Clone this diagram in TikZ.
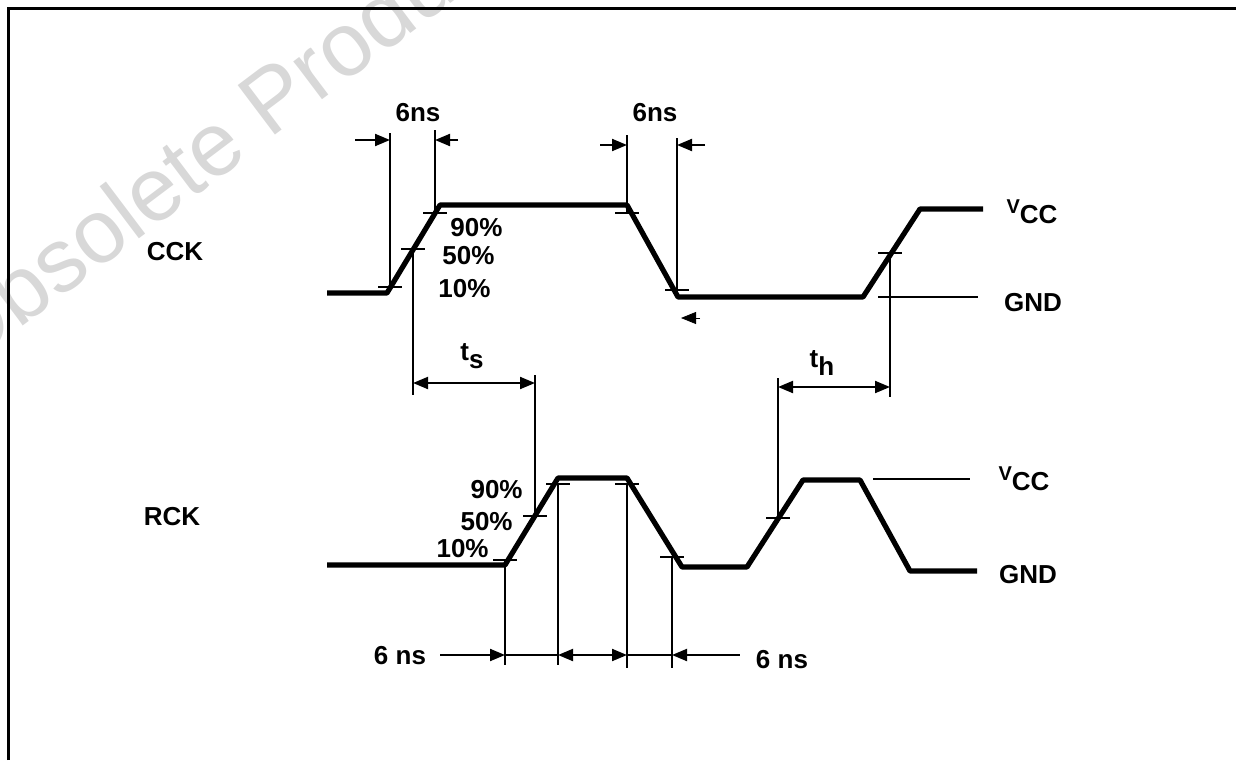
\documentclass[tikz,border=0pt]{standalone}
\usepackage{fontspec}
\setmainfont{Liberation Sans}
\usetikzlibrary{arrows.meta}
\definecolor{wmgray}{RGB}{216,216,216}

\begin{document}
\begin{tikzpicture}[x=0.5pt, y=-0.5pt,
        >={Triangle[length=7.5pt, width=6pt]},
        wave/.style = {line width=2.6pt, line join=round},
        dim/.style = {line width=1pt},
        tick/.style = {line width=0.9pt},
        lbl/.style = {font=\bfseries\fontsize{13}{13}\selectfont, inner sep=0pt},
        pct/.style = {font=\bfseries\fontsize{13}{13}\selectfont, inner sep=0pt},
        ]
        \useasboundingbox (0,0) rectangle (1236,760);
        \clip (0,0) rectangle (1236,760);

        % Watermark
        \node[wmgray, rotate=37, anchor=base west, inner sep=0pt, font=\fontsize{45}{45}\selectfont] (wm) at (-38,372) {Obsolete Product(s)};

        % Frame
        \draw[line width=1.5pt] (8,760) -- (8,8) -- (1236,8);

        % Signal names
        \node[lbl] (cck) at (175,252) {CCK};
        \node[lbl] (rck) at (172,517) {RCK};

        % CCK waveform
        \coordinate (c0) at (327,293);
        \coordinate (c1) at (387,293);
        \coordinate (c2) at (440,205);
        \coordinate (c3) at (627,205);
        \coordinate (c4) at (678,297);
        \coordinate (c5) at (863,297);
        \coordinate (c6) at (920,209);
        \coordinate (c7) at (983,209);
        \draw[wave] (c0) -- (c1) -- (c2) -- (c3) -- (c4) -- (c5) -- (c6) -- (c7);

        % RCK waveform
        \coordinate (r0) at (327,565);
        \coordinate (r1) at (505,565);
        \coordinate (r2) at (558,478);
        \coordinate (r3) at (627,478);
        \coordinate (r4) at (682,567);
        \coordinate (r5) at (747,567);
        \coordinate (r6) at (803,480);
        \coordinate (r7) at (860,480);
        \coordinate (r8) at (910,571);
        \coordinate (r9) at (977,571);
        \draw[wave] (r0) -- (r1) -- (r2) -- (r3) -- (r4) -- (r5) -- (r6) -- (r7) -- (r8) -- (r9);

        % Percent points on the edges
        \coordinate (c10) at (390,287);
        \coordinate (c50) at (413,249);
        \coordinate (c90) at (435,213);
        \coordinate (d90) at (627,213);
        \coordinate (d10) at (677,290);
        \coordinate (e50) at (890,253);
        \coordinate (s10) at (505,560);
        \coordinate (s50) at (535,516);
        \coordinate (s90) at (558,484);
        \coordinate (t90) at (627,484);
        \coordinate (t10) at (672,557);
        \coordinate (u50) at (778,518);
        \foreach \p in {c10,c50,c90,d90,d10,e50,s10,s50,s90,t90,t10,u50}
            \draw[tick] ([xshift=-6pt]\p) -- ([xshift=6pt]\p);

        % Percent labels
        \node[pct, anchor=west] (cp90) at (450,228) {90\%};
        \node[pct, anchor=west] (cp50) at (442,256) {50\%};
        \node[pct, anchor=west] (cp10) at (438,289) {10\%};
        \node[pct, anchor=east] (rp90) at (523,490) {90\%};
        \node[pct, anchor=east] (rp50) at (513,522) {50\%};
        \node[pct, anchor=east] (rp10) at (489,549) {10\%};

        % Rise time on CCK
        \draw[dim] (c10) -- (390,133);
        \draw[dim] (c90) -- (435,130);
        \draw[dim, ->] (355,140) -- (390,140);
        \draw[dim, ->] (458,140) -- (435,140);
        \node[lbl] (trise) at (418,113) {6ns};

        % Fall time on CCK
        \draw[dim] (d90) -- (627,135);
        \draw[dim] (d10) -- (677,138);
        \draw[dim, ->] (600,145) -- (627,145);
        \draw[dim, ->] (705,145) -- (677,145);
        \node[lbl] (tfall) at (655,113) {6ns};
        \draw[->] (700,318) -- (681,318);

        % Setup time
        \draw[dim] (c50) -- (413,395);
        \draw[dim] (s50) -- (535,375);
        \draw[dim, <->] (413,383) -- (535,383);
        \node[lbl] (ts) at (472,356) {t\raisebox{-4pt}{s}};

        % Hold time
        \draw[dim] (u50) -- (778,378);
        \draw[dim] (e50) -- (890,397);
        \draw[dim, <->] (778,387) -- (890,387);
        \node[lbl] (th) at (822,363) {t\raisebox{-4pt}{h}};

        % Levels
        \draw[dim] (878,297) -- (978,297);
        \draw[dim] (873,479) -- (970,479);
        \node[lbl] (vcc1) at (1032,212) {\raisebox{5pt}{\fontsize{10}{10}\selectfont V}CC};
        \node[lbl] (gnd1) at (1033,303) {GND};
        \node[lbl] (vcc2) at (1024,479) {\raisebox{5pt}{\fontsize{10}{10}\selectfont V}CC};
        \node[lbl] (gnd2) at (1028,575) {GND};

        % RCK rise and fall times
        \draw[dim] (s10) -- (505,665);
        \draw[dim] (s90) -- (558,665);
        \draw[dim] (t90) -- (627,668);
        \draw[dim] (t10) -- (672,668);
        \draw[dim, ->] (440,655) -- (505,655);
        \draw[dim] (505,655) -- (558,655);
        \draw[dim, <->] (558,655) -- (627,655);
        \draw[dim] (627,655) -- (672,655);
        \draw[dim, <-] (672,655) -- (740,655);
        \node[lbl] (rrise) at (400,656) {6 ns};
        \node[lbl] (rfall) at (782,660) {6 ns};
    \end{tikzpicture}
\end{document}
